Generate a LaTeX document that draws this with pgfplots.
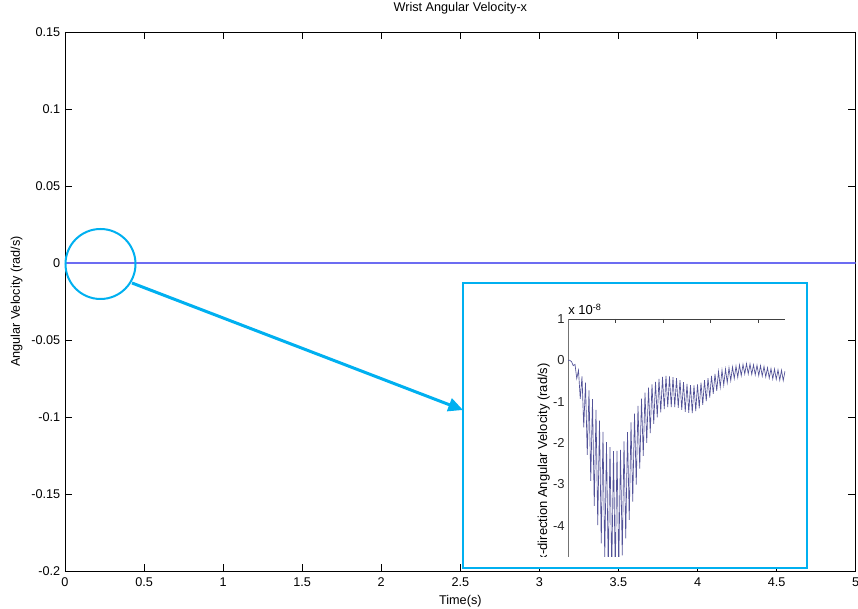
\documentclass[border=0pt]{standalone}
\usepackage{fontspec}
\setmainfont{Liberation Sans}
\usepackage{pgfplots}
\pgfplotsset{compat=1.18}
\usetikzlibrary{arrows.meta}
\definecolor{callout}{HTML}{00B0F0}
\definecolor{zeroline}{RGB}{108,108,242}
\definecolor{sig}{RGB}{82,82,152}

% inset signal, x-velocity in units of 1e-8 rad/s (sample index vs value)
\pgfplotstableread{
i y
0 0
1 0
2 -0.03
3 -0.13
4 -0.10
5 -0.44
6 -0.24
7 -0.93
8 -0.39
9 -1.62
10 -0.54
11 -2.29
12 -0.73
13 -2.92
14 -0.94
15 -3.52
16 -1.20
17 -3.99
18 -1.46
19 -4.43
20 -1.73
21 -4.80
22 -1.98
23 -5.05
24 -2.10
25 -5.15
26 -2.20
27 -5.14
28 -2.19
29 -5.04
30 -2.17
31 -4.72
32 -1.96
33 -4.31
34 -1.74
35 -3.86
36 -1.50
37 -3.42
38 -1.29
39 -3.01
40 -1.10
41 -2.62
42 -0.93
43 -2.31
44 -0.78
45 -2.00
46 -0.66
47 -1.76
48 -0.58
49 -1.54
50 -0.52
51 -1.38
52 -0.45
53 -1.26
54 -0.40
55 -1.18
56 -0.38
57 -1.13
58 -0.39
59 -1.13
60 -0.41
61 -1.13
62 -0.43
63 -1.15
64 -0.48
65 -1.20
66 -0.53
67 -1.25
68 -0.57
69 -1.27
70 -0.60
71 -1.28
72 -0.61
73 -1.23
74 -0.58
75 -1.16
76 -0.54
77 -1.08
78 -0.48
79 -0.99
80 -0.43
81 -0.90
82 -0.38
83 -0.81
84 -0.33
85 -0.74
86 -0.27
87 -0.65
88 -0.24
89 -0.60
90 -0.21
91 -0.54
92 -0.18
93 -0.49
94 -0.16
95 -0.44
96 -0.14
97 -0.41
98 -0.11
99 -0.37
100 -0.10
101 -0.33
102 -0.08
103 -0.33
104 -0.09
105 -0.34
106 -0.11
107 -0.35
108 -0.12
109 -0.37
110 -0.13
111 -0.38
112 -0.15
113 -0.40
114 -0.18
115 -0.43
116 -0.20
117 -0.45
118 -0.21
119 -0.46
120 -0.23
121 -0.48
122 -0.24
123 -0.49
124 -0.26
}\insetdata

\begin{document}
\begin{tikzpicture}
% page = 858x609 px, 1px = 0.75pt, main axis corner at the origin
\path[use as bounding box] (-48.75pt,-28.5pt) rectangle (594.75pt,428.25pt);

\begin{axis}[
  at={(0pt,0pt)}, anchor=south west,
  scale only axis, width=593pt, height=404.25pt,
  xmin=0, xmax=5, ymin=-0.2, ymax=0.15,
  xtick={0,0.5,1,1.5,2,2.5,3,3.5,4,4.5,5},
  xticklabels={0,0.5,1,1.5,2,2.5,3,3.5,4,4.5,5},
  ytick={-0.2,-0.15,-0.1,-0.05,0,0.05,0.1,0.15},
  yticklabels={-0.2,-0.15,-0.1,-0.05,0,0.05,0.1,0.15},
  tick align=inside, major tick length=5.5pt,
  tick style={black, line width=0.6pt},
  axis line style={line width=0.6pt},
  font=\fontsize{9.5}{11}\selectfont,
  xticklabel style={yshift=-1.5pt},
  title={Wrist Angular Velocity-x},
  xlabel={Time(s)},
  ylabel={Angular Velocity (rad/s)},
  title style={at={(axis description cs:0.5,1.0223)}, anchor=base},
  xlabel style={at={(axis description cs:0.5,-0.0631)}, anchor=base},
  ylabel style={at={(axis description cs:-0.057,0.5)}, anchor=base},
]
\addplot[zeroline, line width=1pt] coordinates {(0,0) (5,0)};
\end{axis}

\begin{scope}[x=0.75pt,y=0.75pt]
\fill[white] (398,3) rectangle (742,288);
\end{scope}

\begin{axis}[
  at={(377.25pt,10.5pt)}, anchor=south west,
  scale only axis, width=162.75pt, height=178.5pt,
  xmin=0, xmax=124, ymin=-4.76, ymax=1,
  axis x line*=top, axis y line*=left,
  axis line style={-, line width=0.5pt},
  x axis line style={black!75},
  y axis line style={black!55},
  xtick={27.1,54.3,81.4,108.6}, xticklabels={},
  ytick={-4,-3,-2,-1,0,1},
  yticklabels={-4,-3,-2,-1,0,1},
  tick align=inside, major tick length=3pt,
  xtick style={black!75, line width=0.5pt},
  ytick style={draw=none},
  font=\fontsize{9.75}{11}\selectfont,
  yticklabel style={text=black!85, xshift=1pt},
]
\addplot[sig, line width=0.5pt] table[x=i, y=y] {\insetdata};
\end{axis}

\begin{scope}[x=0.75pt,y=0.75pt]
% y label of the inset, cut off at the bottom as in the pasted figure
\begin{scope}
\clip (430,14) rectangle (500,290);
\node[rotate=90, anchor=base east, inner sep=0pt, font=\fontsize{9.75}{11}\selectfont]
  at (482,208) {x-direction Angular Velocity (rad/s)};
\end{scope}
\node[anchor=base west, inner sep=0pt, font=\fontsize{9.75}{11}\selectfont]
  at (503,256) {x 10\textsuperscript{-8}};
% callout
\draw[callout, line width=1.5pt] (398,3) rectangle (742,288);
\draw[callout, line width=1.5pt] (35.5,307) circle[radius=35];
\draw[callout, line width=2.25pt, -{Triangle[length=11pt,width=10pt]}] (67,288) -- (398,161);
\end{scope}
\end{tikzpicture}
\end{document}
